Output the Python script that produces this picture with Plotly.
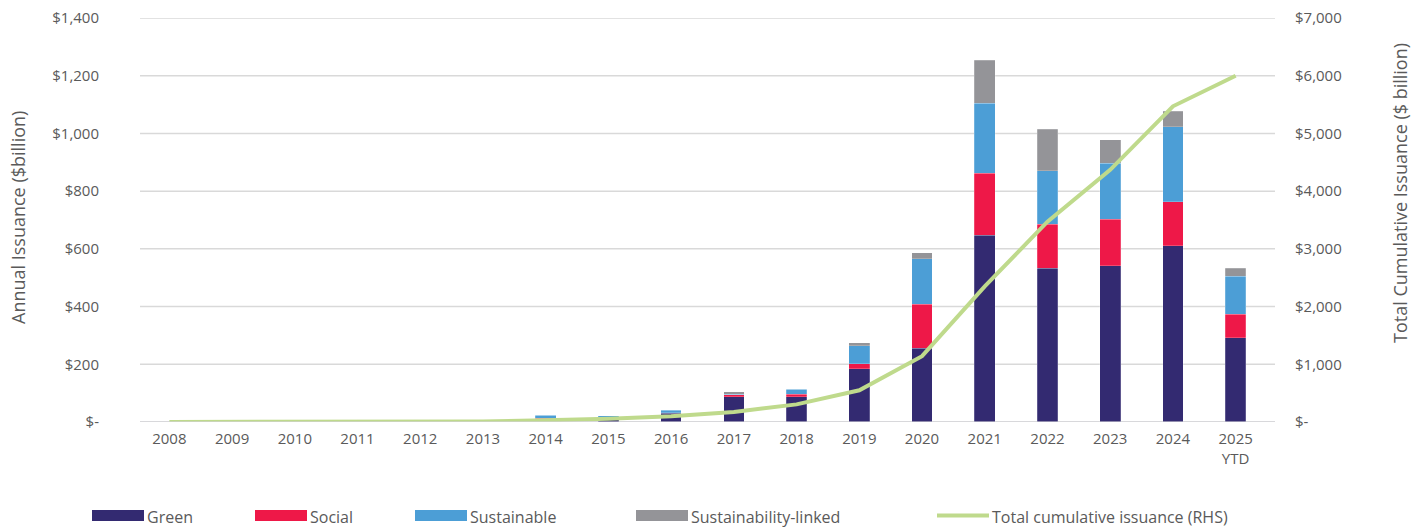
import plotly.graph_objects as go

# Annual issuance by label ($ billion) and running total ($ billion)
years = ["2008", "2009", "2010", "2011", "2012", "2013", "2014", "2015", "2016",
         "2017", "2018", "2019", "2020", "2021", "2022", "2023", "2024", "2025"]
year_labels = years[:-1] + ["2025<br>YTD"]

green = [0, 3, 0, 0, 1, 3, 12, 12, 30, 88, 88, 185, 255, 648, 532, 542, 611, 292]
social = [0, 0, 0, 0, 0, 0, 1, 2, 2, 6, 8, 17, 153, 214, 153, 160, 152, 81]
sustainable = [0, 0, 0, 0, 2, 0, 10, 8, 9, 2, 18, 62, 157, 242, 186, 195, 260, 132]
sustainability_linked = [0, 0, 0, 0, 0, 0, 0, 0, 1, 9, 0, 10, 21, 150, 143, 81, 54, 27]
cumulative = [0, 2, 3, 4, 6, 9, 30, 55, 100, 175, 305, 550, 1140, 2350, 3470, 4370, 5470, 6000]

left_ticks = [0, 200, 400, 600, 800, 1000, 1200, 1400]
right_ticks = [0, 1000, 2000, 3000, 4000, 5000, 6000, 7000]

series = [
    ("Green", green, "#332A71"),
    ("Social", social, "#EE1848"),
    ("Sustainable", sustainable, "#4C9ED6"),
    ("Sustainability-linked", sustainability_linked, "#949498"),
]
line_color = "#BFDA8C"
text_color = "#5A5A5A"
grid_color = "#D9D9D9"
font_family = "Open Sans, Lato, sans-serif"


def money(v):
    return "$-" if v == 0 else "${:,}".format(v)


fig = go.Figure()
for name, vals, color in series:
    fig.add_trace(go.Bar(
        x=years, y=vals, name=name, width=0.33,
        marker=dict(color=color, line=dict(color="rgba(255,255,255,0.35)", width=0.6)),
        showlegend=False,
    ))

fig.add_trace(go.Scatter(
    x=years, y=cumulative, name="Total cumulative issuance (RHS)", yaxis="y2",
    mode="lines", line=dict(color=line_color, width=4), showlegend=False,
))

# Plot area geometry in pixels
W, H = 1419, 528
ML, MR, MT, MB = 138, 152, 18, 106
PW, PH = W - ML - MR, H - MT - MB


def px_x(x):
    return (x - ML) / PW


def px_y(y):
    return (H - MB - y) / PH


# Legend row beneath the chart: wide swatches followed by their labels
legend_items = [
    ("Green", "#332A71", 92, "bar"),
    ("Social", "#EE1848", 255, "bar"),
    ("Sustainable", "#4C9ED6", 415, "bar"),
    ("Sustainability-linked", "#949498", 636, "bar"),
    ("Total cumulative issuance (RHS)", line_color, 937, "line"),
]
shapes = []
annotations = []
for label, color, x0, kind in legend_items:
    swatch_w = 52
    if kind == "bar":
        shapes.append(dict(type="rect", xref="paper", yref="paper",
                           x0=px_x(x0), x1=px_x(x0 + swatch_w),
                           y0=px_y(521), y1=px_y(510),
                           fillcolor=color, line=dict(width=0)))
    else:
        shapes.append(dict(type="line", xref="paper", yref="paper",
                           x0=px_x(x0), x1=px_x(x0 + swatch_w),
                           y0=px_y(515.5), y1=px_y(515.5),
                           line=dict(color=color, width=4)))
    annotations.append(dict(text=label, xref="paper", yref="paper",
                            x=px_x(x0 + swatch_w + 1), y=px_y(517),
                            xanchor="left", yanchor="middle", showarrow=False,
                            font=dict(size=16, color=text_color, family=font_family)))

# Horizontal gridlines, slightly wider than the plot area
for v in left_ticks:
    shapes.append(dict(type="line", xref="paper", yref="y",
                       x0=px_x(140), x1=px_x(1275), y0=v, y1=v,
                       line=dict(color=grid_color, width=1.5), layer="below"))

# Baseline drawn over the bars
shapes.append(dict(type="line", xref="paper", yref="y", x0=px_x(140), x1=px_x(1275),
                   y0=0, y1=0, line=dict(color="rgba(210,210,215,0.8)", width=1.5),
                   layer="above"))

# Axis titles
annotations.append(dict(text="Annual Issuance ($billion)", xref="paper", yref="paper",
                        x=px_x(18), y=px_y(218), textangle=-90, showarrow=False,
                        xanchor="center", yanchor="middle",
                        font=dict(size=18, color=text_color, family=font_family)))
annotations.append(dict(text="Total Cumulative Issuance ($ billion)", xref="paper", yref="paper",
                        x=px_x(1400), y=px_y(193), textangle=-90, showarrow=False,
                        xanchor="center", yanchor="middle",
                        font=dict(size=18, color=text_color, family=font_family)))

fig.update_layout(
    width=W, height=H,
    margin=dict(l=ML, r=MR, t=MT, b=MB, autoexpand=False),
    barmode="stack",
    plot_bgcolor="white", paper_bgcolor="white",
    font=dict(family=font_family, size=15, color=text_color),
    shapes=shapes, annotations=annotations,
    xaxis=dict(
        type="category", tickmode="array", tickvals=years, ticktext=year_labels,
        range=[-0.5, len(years) - 0.5], showgrid=False, showline=False,
        ticks="", ticklabelstandoff=6, tickfont=dict(size=15, color=text_color),
        automargin=False,
    ),
    yaxis=dict(
        range=[0, 1400], tickvals=left_ticks, ticktext=[money(v) for v in left_ticks],
        showgrid=False, zeroline=False, showline=False, ticks="",
        ticklabelstandoff=38, tickfont=dict(size=15, color=text_color),
        automargin=False,
    ),
    yaxis2=dict(
        range=[0, 7000], overlaying="y", side="right",
        tickvals=right_ticks, ticktext=[money(v) for v in right_ticks],
        showgrid=False, zeroline=False, showline=False, ticks="",
        ticklabelstandoff=27, tickfont=dict(size=15, color=text_color),
        automargin=False,
    ),
)

fig.write_html("out.html")
